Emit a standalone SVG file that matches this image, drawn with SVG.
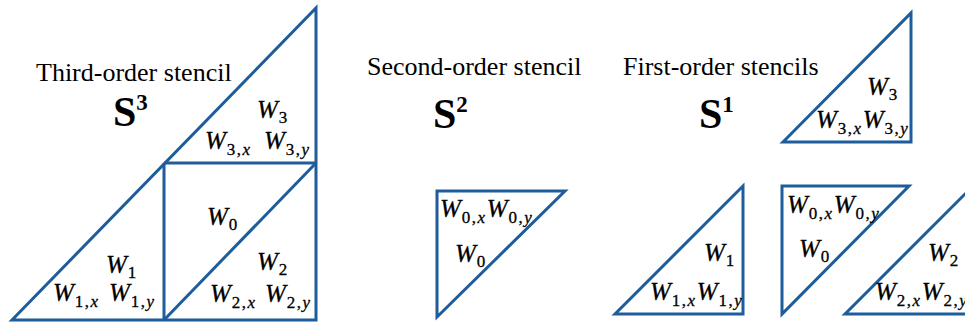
<svg xmlns="http://www.w3.org/2000/svg" width="965" height="325" viewBox="0 0 965 325">
<style>
.tri{fill:none;stroke:#1f5c9c;stroke-width:3;stroke-linejoin:miter}
.ttl{font-family:"Liberation Serif","Times New Roman",serif;font-size:26px;fill:#000}
.big{font-family:"Liberation Serif","Times New Roman",serif;font-size:42px;font-weight:bold;fill:#000}
.sup{font-size:23px}
.w{font-family:"Liberation Serif","Times New Roman",serif;font-style:italic;font-size:25px;fill:#000;stroke:#000;stroke-width:0.3px}
.s{font-style:normal;font-size:17px;letter-spacing:1.5px}
.i{font-style:italic}
</style>
<rect width="965" height="325" fill="#fff"/>

<g id="third-order">
  <text class="ttl" x="36" y="81">Third-order stencil</text>
  <text class="big" x="113" y="126">S<tspan class="sup" dy="-16">3</tspan></text>
  <g id="third-lines">
    <polygon class="tri" points="12,320 316,8 316,320"/>
    <line class="tri" x1="164" y1="163" x2="316" y2="163"/>
    <line class="tri" x1="164" y1="163" x2="164" y2="320"/>
    <line class="tri" x1="164" y1="320" x2="316" y2="163"/>
  </g>
  <text class="w" x="257" y="118">W<tspan class="s" dx="1" dy="5">3</tspan></text>
  <text class="w" x="205" y="149">W<tspan class="s" dx="1" dy="6">3,</tspan><tspan class="s i">x</tspan></text>
  <text class="w" x="264" y="149">W<tspan class="s" dx="1" dy="6">3,</tspan><tspan class="s i">y</tspan></text>
  <text class="w" x="207" y="225">W<tspan class="s" dx="1" dy="5">0</tspan></text>
  <text class="w" x="106" y="273">W<tspan class="s" dx="1" dy="5">1</tspan></text>
  <text class="w" x="53" y="301">W<tspan class="s" dx="1" dy="6">1,</tspan><tspan class="s i">x</tspan></text>
  <text class="w" x="109" y="301">W<tspan class="s" dx="1" dy="6">1,</tspan><tspan class="s i">y</tspan></text>
  <text class="w" x="257" y="270">W<tspan class="s" dx="1" dy="5">2</tspan></text>
  <text class="w" x="210" y="302">W<tspan class="s" dx="1" dy="6">2,</tspan><tspan class="s i">x</tspan></text>
  <text class="w" x="265" y="302">W<tspan class="s" dx="1" dy="6">2,</tspan><tspan class="s i">y</tspan></text>
</g>

<g id="second-order">
  <text class="ttl" x="367" y="75">Second-order stencil</text>
  <text class="big" x="433" y="128">S<tspan class="sup" dy="-16">2</tspan></text>
  <polygon class="tri" points="437,191 565,191 437,317"/>
  <text class="w" x="440" y="217">W<tspan class="s" dx="1" dy="6">0,</tspan><tspan class="s i">x</tspan><tspan dy="-6">W</tspan><tspan class="s" dx="1" dy="6">0,</tspan><tspan class="s i">y</tspan></text>
  <text class="w" x="455" y="262">W<tspan class="s" dx="1" dy="5">0</tspan></text>
</g>

<g id="first-order">
  <text class="ttl" x="623" y="75">First-order stencils</text>
  <text class="big" x="699" y="128">S<tspan class="sup" dy="-16">1</tspan></text>
</g>

<g id="first-w3">
  <polygon class="tri" points="783,142 911,13 911,142"/>
  <text class="w" x="867" y="95">W<tspan class="s" dx="1" dy="5">3</tspan></text>
  <text class="w" x="816" y="128">W<tspan class="s" dx="1" dy="6">3,</tspan><tspan class="s i">x</tspan><tspan dy="-6">W</tspan><tspan class="s" dx="1" dy="6">3,</tspan><tspan class="s i">y</tspan></text>
</g>

<g id="first-w1">
  <polygon class="tri" points="615,314 743,186 743,314"/>
  <text class="w" x="704" y="261">W<tspan class="s" dx="1" dy="5">1</tspan></text>
  <text class="w" x="650" y="300">W<tspan class="s" dx="1" dy="6">1,</tspan><tspan class="s i">x</tspan><tspan dy="-6">W</tspan><tspan class="s" dx="1" dy="6">1,</tspan><tspan class="s i">y</tspan></text>
</g>

<g id="first-w0">
  <polygon class="tri" points="782,186 909,186 782,314"/>
  <text class="w" x="787" y="213">W<tspan class="s" dx="1" dy="6">0,</tspan><tspan class="s i">x</tspan><tspan dy="-6">W</tspan><tspan class="s" dx="1" dy="6">0,</tspan><tspan class="s i">y</tspan></text>
  <text class="w" x="799" y="257">W<tspan class="s" dx="1" dy="5">0</tspan></text>
</g>

<g id="first-w2">
  <polygon class="tri" points="845,314 973,186 973,314"/>
  <text class="w" x="928" y="261">W<tspan class="s" dx="1" dy="5">2</tspan></text>
  <text class="w" x="875" y="300">W<tspan class="s" dx="1" dy="6">2,</tspan><tspan class="s i">x</tspan><tspan dy="-6">W</tspan><tspan class="s" dx="1" dy="6">2,</tspan><tspan class="s i">y</tspan></text>
</g>
</svg>
